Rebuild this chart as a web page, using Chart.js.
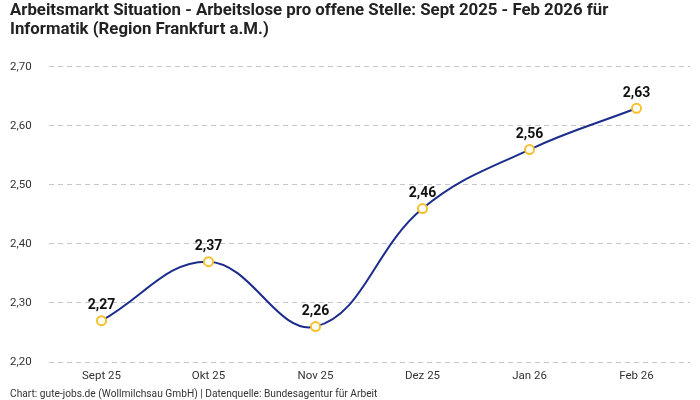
<!DOCTYPE html>
<html>
<head>
<meta charset="utf-8">
<script src="https://cdn.jsdelivr.net/npm/chart.js@4"></script>
<style>
  html, body { margin: 0; padding: 0; background: #fff; }
  .wrap { width: 700px; height: 400px; }
</style>
</head>
<body>
<div class="wrap"><canvas id="chart" width="700" height="400"></canvas></div>
<script>
// chart data
const months = ["Sept 25", "Okt 25", "Nov 25", "Dez 25", "Jan 26", "Feb 26"];
const ratio = [2.27, 2.37, 2.26, 2.46, 2.56, 2.63];
const yTicks = [2.2, 2.3, 2.4, 2.5, 2.6, 2.7];

const titleLines = [
  "Arbeitsmarkt Situation - Arbeitslose pro offene Stelle: Sept 2025 - Feb 2026 für",
  "Informatik (Region Frankfurt a.M.)"
];
const footerText = "Chart: gute-jobs.de (Wollmilchsau GmbH) | Datenquelle: Bundesagentur für Arbeit";

const fontFamily = "Roboto, 'Noto Sans', sans-serif";
const fmt = v => v.toFixed(2).replace(".", ",");

// draw values above the points
const valueLabels = {
  id: "valueLabels",
  afterDatasetsDraw(chart) {
    const ctx = chart.ctx;
    const meta = chart.getDatasetMeta(0);
    ctx.save();
    ctx.font = "bold 14px " + fontFamily;
    ctx.fillStyle = "#111";
    ctx.textAlign = "center";
    ctx.textBaseline = "bottom";
    meta.data.forEach((pt, i) => {
      ctx.fillText(fmt(ratio[i]), pt.x, pt.y - 8);
    });
    ctx.restore();
  }
};

new Chart(document.getElementById("chart"), {
  type: "line",
  data: {
    labels: months,
    datasets: [{
      data: ratio,
      borderColor: "#1c2c8c",
      borderWidth: 2,
      tension: 0.4,
      fill: false,
      pointRadius: 4.5,
      pointBorderWidth: 2,
      pointBorderColor: "#f7c02b",
      pointBackgroundColor: "#ffffff"
    }]
  },
  options: {
    responsive: false,
    animation: false,
    layout: { padding: { left: 10, right: 10, top: 0, bottom: 0 } },
    plugins: {
      legend: { display: false },
      tooltip: { enabled: false },
      title: {
        display: true,
        text: titleLines,
        align: "start",
        color: "#222",
        font: { family: fontFamily, size: 16.8, weight: "bold", lineHeight: 1.1 },
        padding: { top: 2, bottom: 28 }
      },
      subtitle: {
        display: true,
        position: "bottom",
        text: footerText,
        align: "start",
        color: "#333",
        font: { family: fontFamily, size: 10.2, lineHeight: 1 },
        padding: { top: 0, bottom: 0 }
      }
    },
    scales: {
      x: {
        offset: true,
        grid: { display: false, drawTicks: false },
        border: { display: false },
        ticks: { color: "#333", font: { family: fontFamily, size: 11.5 }, padding: 7 }
      },
      y: {
        min: 2.2,
        max: 2.7,
        afterBuildTicks: s => { s.ticks = yTicks.map(v => ({ value: v })); },
        afterFit: s => { s.width = 38; },
        grid: { color: "#c8c8c8", lineWidth: 1, drawTicks: false },
        border: { display: true, color: "rgba(0,0,0,0)", dash: [5, 4] },
        ticks: {
          color: "#333",
          font: { family: fontFamily, size: 11.5 },
          crossAlign: "far",
          padding: 10,
          callback: v => fmt(v)
        }
      }
    }
  },
  plugins: [valueLabels]
});
</script>
</body>
</html>
